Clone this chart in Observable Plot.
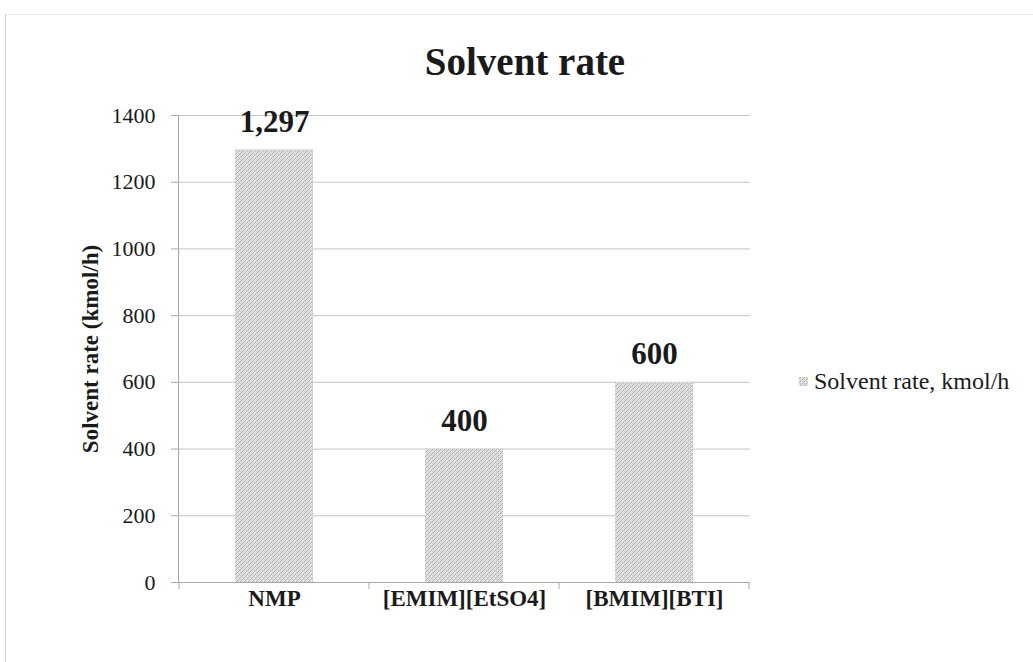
<!DOCTYPE html>
<html>
<head>
<meta charset="utf-8">
<script src="https://cdn.jsdelivr.net/npm/d3@7"></script>
<script src="https://cdn.jsdelivr.net/npm/@observablehq/plot@0.6"></script>
<style>
  body { margin: 0; background: #fff; font-family: "Liberation Serif", "Times New Roman", serif; }
  #wrap { position: relative; width: 1033px; height: 662px; overflow: hidden; background: #fff; }
  #frame { position: absolute; left: 5px; top: 14px; width: 1040px; height: 700px; border-left: 1px solid #cfcfcf; border-top: 1px solid #e6e6e6; }
  #title { position: absolute; left: 0; top: 38px; width: 1050px; text-align: center; font-size: 39px; font-weight: bold; line-height: 48px; color: #1a1a1a; }
  #chart { position: absolute; left: 0; top: 90px; }
  #legend { position: absolute; left: 798px; top: 368px; font-size: 24px; color: #1a1a1a; display: flex; align-items: center; white-space: nowrap; }
  #legend svg { margin-right: 5px; }
</style>
</head>
<body>
<div id="wrap">
  <div id="frame"></div>
  <div id="title">Solvent rate</div>
  <div id="chart"></div>
  <div id="legend"></div>
</div>
<script>
// ---- data ----
const categories = ["NMP", "[EMIM][EtSO4]", "[BMIM][BTI]"];
const solventRate = [1297, 400, 600];
const yTicks = [0, 200, 400, 600, 800, 1000, 1200, 1400];
const seriesName = "Solvent rate, kmol/h";
const yLabel = "Solvent rate (kmol/h)";

const data = categories.map((c, i) => ({category: c, value: solventRate[i]}));
const fmt = d3.format(",");

const plot = Plot.plot({
  width: 1033,
  height: 572,
  marginLeft: 178,
  marginRight: 283,
  marginTop: 25,
  marginBottom: 80,
  style: {fontFamily: "Liberation Serif, Times New Roman, serif", fontSize: "22px", color: "#1a1a1a", background: "transparent"},
  x: {domain: categories, paddingInner: 0.59, paddingOuter: 0.295, label: null},
  y: {domain: [0, 1400], ticks: yTicks, label: null},
  marks: [
    Plot.gridY(yTicks, {stroke: "#c4c4c4", strokeOpacity: 1}),
    Plot.barY(data, {x: "category", y: "value", fill: "url(#hatch)"}),
    Plot.frame({anchor: "left", stroke: "#a8a8a8"}),
    Plot.ruleY([0], {stroke: "#a8a8a8"}),
    Plot.axisY(yTicks, {tickSize: 7, tickPadding: 16, tickFormat: "d", stroke: "#a8a8a8", fontSize: 22, fill: "#1a1a1a", label: null}),
    Plot.axisX({tickSize: 0, tickPadding: 7, fontSize: 23, fontWeight: "bold", fill: "#1a1a1a", label: null}),
    Plot.text(data, {x: "category", y: "value", text: d => fmt(d.value), dy: -28, fontSize: 31, fontWeight: "bold", fill: "#1a1a1a"}),
    Plot.text([yLabel], {frameAnchor: "left", textAnchor: "middle", dx: -88, rotate: -90, fontSize: 23, fontWeight: "bold", fill: "#1a1a1a"})
  ]
});

// stipple pattern for bars
function addPattern(defs, id) {
  const p = defs.append("pattern").attr("id", id).attr("patternUnits", "userSpaceOnUse").attr("width", 4).attr("height", 4);
  p.append("rect").attr("width", 4).attr("height", 4).attr("fill", "#e4e4e4");
  [[0, 3], [1, 2], [2, 1], [3, 0]].forEach(([x, y]) =>
    p.append("rect").attr("x", x).attr("y", y).attr("width", 1).attr("height", 1).attr("fill", "#afafaf"));
  [[0, 1], [2, 3]].forEach(([x, y]) =>
    p.append("rect").attr("x", x).attr("y", y).attr("width", 1).attr("height", 1).attr("fill", "#c8c8c8"));
}
const svg = d3.select(plot);
addPattern(svg.insert("defs", ":first-child"), "hatch");

// category boundary ticks on the x axis (Excel style)
const xs = plot.scale("x");
const ys = plot.scale("y");
const step = xs.step;
const half = xs.bandwidth / 2;
const y0 = ys.apply(0);
const bounds = categories.map(c => xs.apply(c) + half - step / 2);
bounds.push(xs.apply(categories[categories.length - 1]) + half + step / 2);
svg.append("g").selectAll("line").data(bounds).join("line")
  .attr("x1", d => d).attr("x2", d => d)
  .attr("y1", y0).attr("y2", y0 + 7)
  .attr("stroke", "#a8a8a8");

document.getElementById("chart").appendChild(plot);

// legend
const leg = d3.select("#legend");
const ls = leg.append("svg").attr("width", 11).attr("height", 11);
addPattern(ls.append("defs"), "hatchL");
ls.append("rect").attr("x", 1).attr("y", 1).attr("width", 9).attr("height", 9).attr("fill", "url(#hatchL)");
leg.append("span").text(seriesName);
</script>
</body>
</html>
